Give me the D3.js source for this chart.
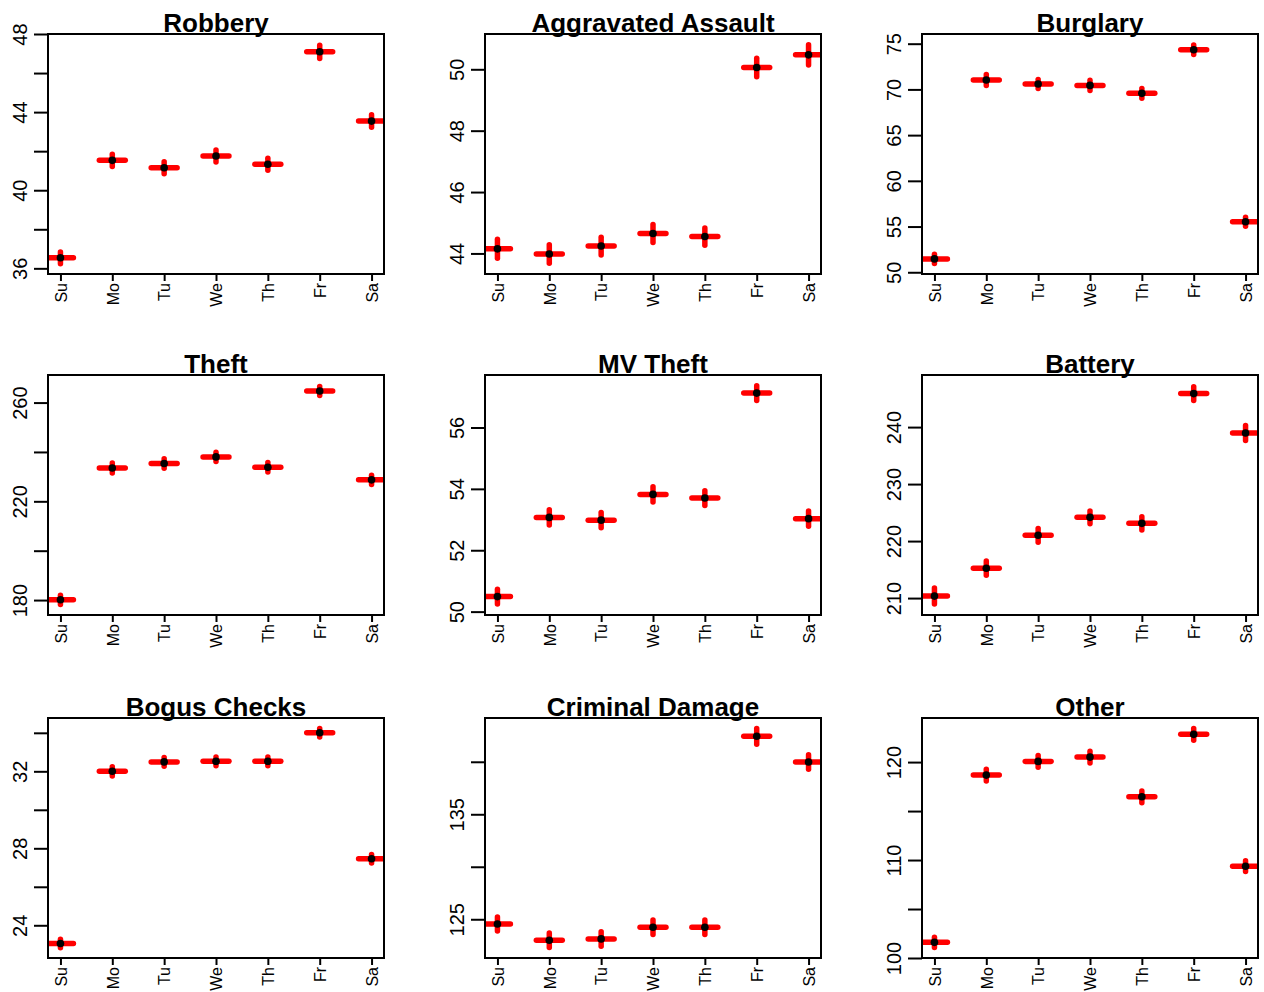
<!DOCTYPE html>
<html>
<head>
<meta charset="utf-8">
<script src="https://cdn.jsdelivr.net/npm/d3@7"></script>
<style>
  body { margin: 0; background: #fff; }
  svg { display: block; font-family: "Liberation Sans", Arial, Helvetica, sans-serif; }
</style>
</head>
<body>
<svg id="chart" width="1264" height="992"></svg>
<script>
// day-of-week categories
const days = ["Su", "Mo", "Tu", "We", "Th", "Fr", "Sa"];
const crimes = ["Robbery", "Aggravated Assault", "Burglary", "Theft", "MV Theft",
                "Battery", "Bogus Checks", "Criminal Damage", "Other"];

// mean per day
const robberyMean   = [36.54, 41.53, 41.15, 41.75, 41.33, 47.09, 43.54];
const assaultMean   = [44.15, 43.98, 44.24, 44.65, 44.55, 50.06, 50.47];
const burglaryMean  = [51.46, 71.03, 70.59, 70.44, 69.57, 74.34, 55.53];
const theftMean     = [180.1, 233.5, 235.3, 238.0, 233.8, 264.7, 228.7];
const mvTheftMean   = [50.49, 53.07, 52.98, 53.82, 53.70, 57.12, 53.03];
const batteryMean   = [210.35, 215.24, 221.01, 224.16, 223.11, 245.88, 238.96];
const bogusMean     = [23.05, 32.0, 32.49, 32.52, 32.52, 34.0, 27.46];
const damageMean    = [124.55, 123.0, 123.13, 124.24, 124.24, 142.43, 139.98];
const otherMean     = [101.6, 118.67, 120.07, 120.51, 116.46, 122.83, 109.37];

// error half-lengths (vertical red bars)
const robberySE  = [0.30, 0.31, 0.31, 0.31, 0.31, 0.34, 0.32];
const assaultSE  = [0.31, 0.30, 0.29, 0.29, 0.28, 0.30, 0.33];
const burglarySE = [0.50, 0.60, 0.50, 0.55, 0.53, 0.52, 0.50];
const theftSE    = [1.9, 2.0, 1.9, 1.9, 1.9, 1.8, 1.9];
const mvTheftSE  = [0.24, 0.25, 0.25, 0.25, 0.24, 0.24, 0.25];
const batterySE  = [1.40, 1.25, 1.20, 1.10, 1.17, 1.22, 1.30];
const bogusSE    = [0.22, 0.24, 0.23, 0.23, 0.23, 0.22, 0.22];
const damageSE   = [0.67, 0.69, 0.69, 0.69, 0.69, 0.75, 0.69];
const otherSE    = [0.52, 0.60, 0.60, 0.60, 0.60, 0.60, 0.55];

// y-axis limits, ticks and labelled ticks
const yLimits = [[35.71, 48.0], [43.33, 51.15], [49.81, 76.06], [173.95, 271.17], [49.89, 57.71],
                 [207.03, 249.14], [22.30, 34.77], [121.31, 144.17], [100.0, 124.5]];
const yTicks = [[36, 38, 40, 42, 44, 46, 48], [44, 46, 48, 50], [50, 55, 60, 65, 70, 75],
                [180, 200, 220, 240, 260], [50, 52, 54, 56], [210, 220, 230, 240],
                [24, 26, 28, 30, 32, 34], [125, 130, 135, 140], [100, 105, 110, 115, 120]];
const yTickLabels = [[36, 40, 44, 48], [44, 46, 48, 50], [50, 55, 60, 65, 70, 75],
                     [180, 220, 260], [50, 52, 54, 56], [210, 220, 230, 240],
                     [24, 28, 32], [125, 135], [100, 110, 120]];

const means = [robberyMean, assaultMean, burglaryMean, theftMean, mvTheftMean,
               batteryMean, bogusMean, damageMean, otherMean];
const errs = [robberySE, assaultSE, burglarySE, theftSE, mvTheftSE,
              batterySE, bogusSE, damageSE, otherSE];

const FONT = '"Liberation Sans", Arial, Helvetica, sans-serif';

const svg = d3.select("#chart");
svg.append("rect").attr("width", 1264).attr("height", 992).attr("fill", "#fff");

const colLeft = [48, 485, 922];
const rowTop = [34, 375, 718];
const pw = 336, ph = 240;

crimes.forEach(function(name, k) {
  const g = svg.append("g")
    .attr("transform", "translate(" + colLeft[k % 3] + "," + rowTop[Math.floor(k / 3)] + ")");

  const x = d3.scaleLinear().domain([0.76, 7.24]).range([0, pw]);
  const y = d3.scaleLinear().domain(yLimits[k]).range([ph, 0]);

  const clipId = "clip" + k;
  g.append("clipPath").attr("id", clipId)
    .append("rect").attr("width", pw).attr("height", ph);

  const rows = days.map(function(d, i) {
    return { day: d, pos: i + 1, m: means[k][i], se: errs[k][i] };
  });

  const marks = g.append("g").attr("clip-path", "url(#" + clipId + ")");

  // horizontal bars
  marks.selectAll(".hbar").data(rows).enter().append("line")
    .attr("x1", d => x(d.pos - 0.25)).attr("x2", d => x(d.pos + 0.25))
    .attr("y1", d => y(d.m)).attr("y2", d => y(d.m))
    .attr("stroke", "#ff0000").attr("stroke-width", 5.5).attr("stroke-linecap", "round");

  // vertical error bars
  marks.selectAll(".vbar").data(rows).enter().append("line")
    .attr("x1", d => x(d.pos)).attr("x2", d => x(d.pos))
    .attr("y1", d => y(d.m - d.se)).attr("y2", d => y(d.m + d.se))
    .attr("stroke", "#ff0000").attr("stroke-width", 5.5).attr("stroke-linecap", "round");

  marks.selectAll("circle").data(rows).enter().append("circle")
    .attr("cx", d => x(d.pos)).attr("cy", d => y(d.m)).attr("r", 3.8)
    .attr("fill", "#000");

  // y axis
  const labelled = yTickLabels[k];
  const ya = g.append("g")
    .call(d3.axisLeft(y).tickValues(yTicks[k]).tickSize(14)
      .tickFormat(v => labelled.indexOf(v) >= 0 ? String(v) : ""))
    .attr("font-family", FONT);
  ya.select(".domain").remove();
  ya.selectAll(".tick line").attr("stroke", "#000").attr("stroke-width", 2);
  ya.selectAll(".tick text")
    .attr("x", null).attr("dy", null)
    .attr("transform", "translate(-21,0) rotate(-90)")
    .attr("text-anchor", "middle")
    .attr("fill", "#000")
    .style("font-size", "20px");

  // x axis
  const xa = g.append("g").attr("transform", "translate(0," + ph + ")")
    .call(d3.axisBottom(x).tickValues([1, 2, 3, 4, 5, 6, 7]).tickSize(7)
      .tickFormat((v, i) => days[i]))
    .attr("font-family", FONT);
  xa.select(".domain").remove();
  xa.selectAll(".tick line").attr("stroke", "#000").attr("stroke-width", 2);
  xa.selectAll(".tick text")
    .attr("y", null)
    .attr("transform", "translate(0,9) rotate(-90)")
    .attr("text-anchor", "end")
    .attr("dy", "0.36em")
    .attr("fill", "#000")
    .style("font-size", "16px");

  // box
  g.append("rect").attr("width", pw).attr("height", ph)
    .attr("fill", "none").attr("stroke", "#000").attr("stroke-width", 2);

  g.append("text")
    .attr("x", pw / 2).attr("y", -2)
    .attr("text-anchor", "middle")
    .style("font-size", "26px").style("font-weight", "bold")
    .text(name);
});
</script>
</body>
</html>
